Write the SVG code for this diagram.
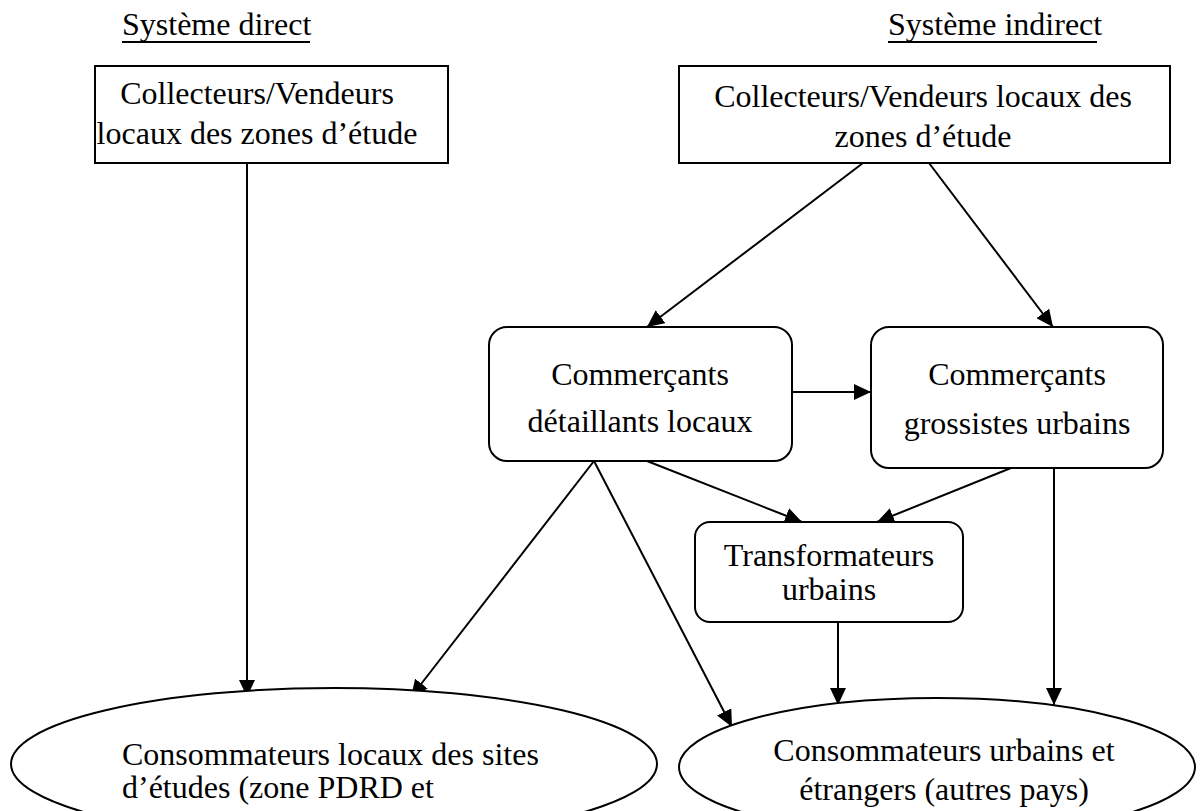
<svg xmlns="http://www.w3.org/2000/svg" width="1200" height="811" viewBox="0 0 1200 811">
<style>
text{font-family:"Liberation Serif","Times New Roman",serif;font-size:32px;fill:#000}
.m{text-anchor:middle}
.box{fill:#fff;stroke:#000;stroke-width:2}
.ln{stroke:#000;stroke-width:2;fill:none;marker-end:url(#ah)}
</style>
<defs>
<marker id="ah" markerUnits="userSpaceOnUse" markerWidth="17" markerHeight="16" viewBox="0 0 17 16" refX="17" refY="8" orient="auto">
<path d="M0,0 L17,8 L0,16 z" fill="#000"/>
</marker>
</defs>
<g id="titles">
<text x="122" y="35">Système direct</text>
<line x1="122" y1="42" x2="310" y2="42" stroke="#000" stroke-width="2"/>
<text x="888" y="35">Système indirect</text>
<line x1="888" y1="42" x2="1097" y2="42" stroke="#000" stroke-width="2"/>
</g>
<g id="connectors">
<line class="ln" x1="247" y1="163" x2="247" y2="697"/>
<line class="ln" x1="863" y1="163" x2="647" y2="327"/>
<line class="ln" x1="929" y1="163" x2="1053" y2="327"/>
<line class="ln" x1="792" y1="392" x2="871" y2="392"/>
<line class="ln" x1="594" y1="461" x2="411" y2="697"/>
<line class="ln" x1="594" y1="461" x2="732" y2="727"/>
<line class="ln" x1="647" y1="461" x2="802" y2="522"/>
<line class="ln" x1="1011" y1="468" x2="877" y2="522"/>
<line class="ln" x1="838" y1="622" x2="838" y2="705"/>
<line class="ln" x1="1054" y1="468" x2="1054" y2="705"/>
</g>
<g id="n1">
<rect class="box" x="95" y="66" width="353" height="97"/>
<text class="m" x="257" y="104">Collecteurs/Vendeurs</text>
<text class="m" x="257" y="144">locaux des zones d’étude</text>
</g>
<g id="n2">
<rect class="box" x="679" y="66" width="491" height="97"/>
<text class="m" x="923" y="107">Collecteurs/Vendeurs locaux des</text>
<text class="m" x="923" y="147">zones d’étude</text>
</g>
<g id="n3">
<rect class="box" x="489" y="327" width="303" height="134" rx="18"/>
<text class="m" x="640" y="385">Commerçants</text>
<text class="m" x="640" y="432">détaillants locaux</text>
</g>
<g id="n4">
<rect class="box" x="871" y="327" width="292" height="141" rx="18"/>
<text class="m" x="1017" y="385">Commerçants</text>
<text class="m" x="1017" y="434">grossistes urbains</text>
</g>
<g id="n5">
<rect class="box" x="695" y="522" width="268" height="100" rx="15"/>
<text class="m" x="829" y="566">Transformateurs</text>
<text class="m" x="829" y="600">urbains</text>
</g>
<g id="n6">
<ellipse class="box" cx="334" cy="764" rx="323" ry="76"/>
<text x="122" y="765">Consommateurs locaux des sites</text>
<text x="122" y="798">d’études (zone PDRD et</text>
</g>
<g id="n7">
<ellipse class="box" cx="937" cy="767" rx="258" ry="69"/>
<text class="m" x="944" y="761">Consommateurs urbains et</text>
<text class="m" x="944" y="800">étrangers (autres pays)</text>
</g>
</svg>
